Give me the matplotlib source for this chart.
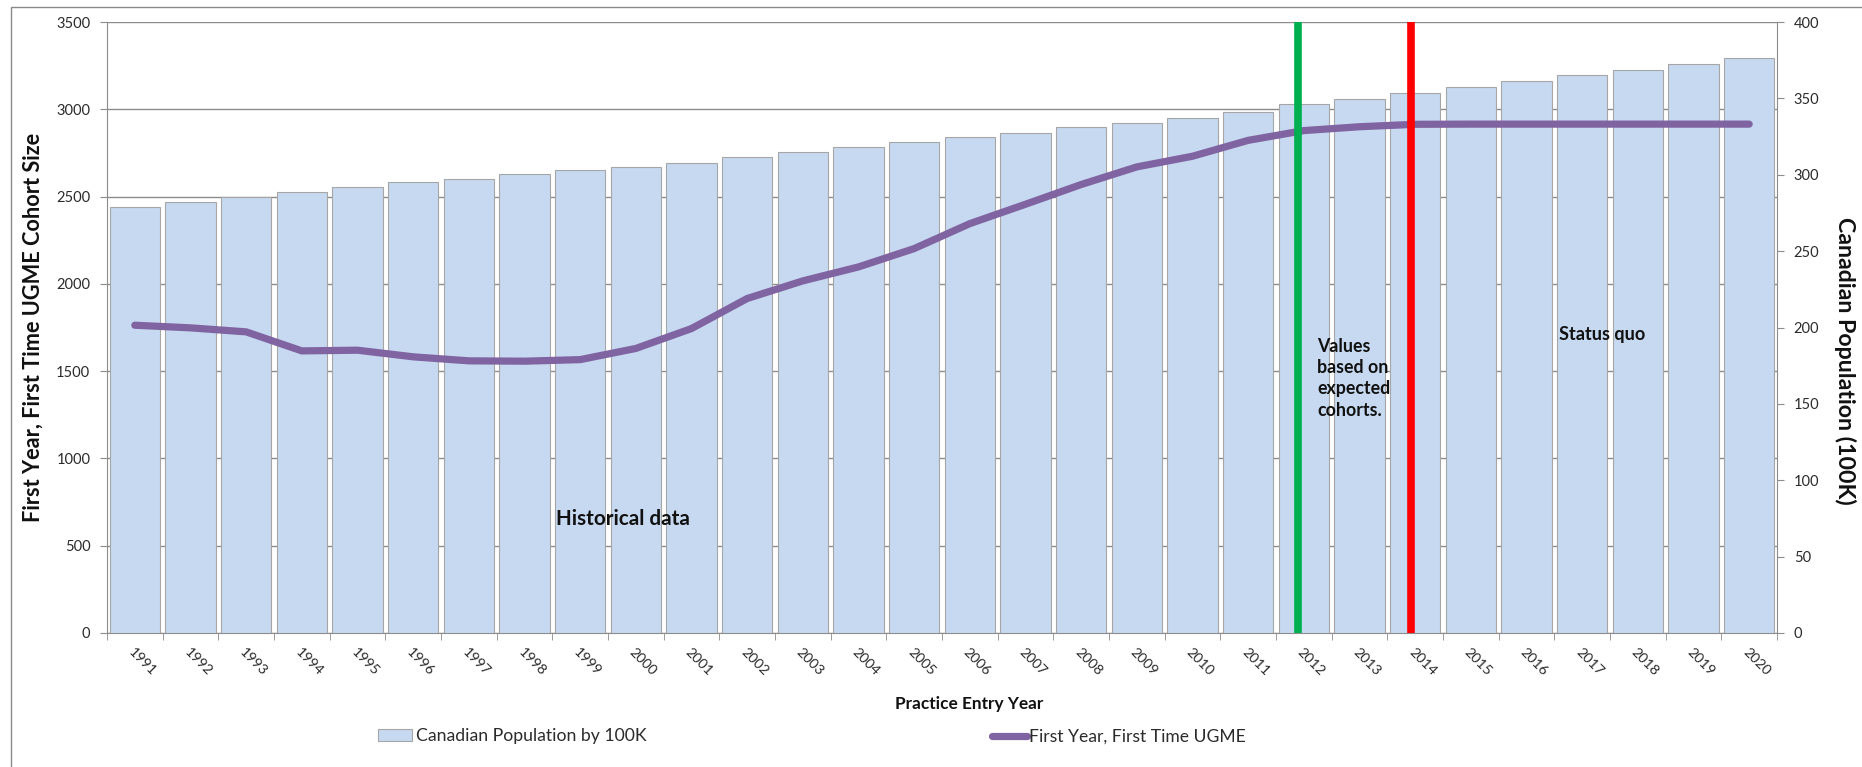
import matplotlib
matplotlib.use('Agg')
import matplotlib.pyplot as plt
from matplotlib.patches import Rectangle
import numpy as np

# ---------------- data ----------------
years = list(range(1991, 2021))
population_100k = [278.7, 282.1, 285.7, 289.0, 292.2, 295.3, 297.3, 300.6, 302.9, 305.4,
                   307.8, 311.7, 315.0, 318.2, 321.5, 324.5, 327.5, 331.2, 334.2, 337.0,
                   341.2, 346.1, 349.8, 353.5, 357.2, 361.3, 365.0, 368.7, 372.7, 376.4]
first_year_ugme = [1763, 1748, 1725, 1616, 1620, 1582, 1559, 1557, 1566, 1630,
                   1744, 1916, 2017, 2097, 2202, 2345, 2456, 2569, 2670, 2731,
                   2822, 2878, 2900, 2914, 2915, 2915, 2915, 2915, 2915, 2915]
bar_label = 'Canadian Population by 100K'
line_label = 'First Year, First Time UGME'
left_ticks = list(range(0, 3501, 500))
right_ticks = list(range(0, 401, 50))
divider_years = [2011.9, 2013.93]
divider_colors = ['#00B050', '#FF0000']

plt.rcParams['font.family'] = ['Lato', 'DejaVu Sans']

W, H = 1862, 767
fig = plt.figure(figsize=(W / 100, H / 100), dpi=100)
renderer = fig.canvas.get_renderer()


def fit(t, target, use_height=False):
    bb = t.get_window_extent(renderer)
    cur = bb.height if use_height else bb.width
    t.set_fontsize(t.get_fontsize() * target / cur)


# outer chart border
fig.patches.append(Rectangle((10.5 / W, -0.1), 1.2, 1.1 - 7 / H, transform=fig.transFigure,
                             fill=False, edgecolor='#8a8a8a', lw=1.0, clip_on=False))

pos = [107 / W, (H - 633) / H, (1777 - 107) / W, (633 - 22) / H]
x = np.arange(len(years))

grid_gray = '#8c8c8c'
text_col = '#2b2b2b'
dark = '#111111'

ax = fig.add_axes(pos)
ax.set_xlim(-0.5, len(years) - 0.5)
ax.set_ylim(0, 3500)
ax.set_yticks(left_ticks)
ax.grid(axis='y', color=grid_gray, lw=1.0)
ax.set_axisbelow(True)
for s in ['top', 'right']:
    ax.spines[s].set_visible(False)
for s in ['left', 'bottom']:
    ax.spines[s].set_color(grid_gray)
ax.tick_params(axis='y', direction='out', length=5, color=grid_gray, pad=7,
               labelsize=10.5, labelcolor=text_col)
ax.set_xticks(x)
ax.set_xticklabels([str(y) for y in years], rotation=-45, ha='left', va='top',
                   rotation_mode='anchor')
ax.tick_params(axis='x', which='major', length=0, pad=9, labelsize=10.3, labelcolor=text_col)
ax.set_xticks(np.arange(-0.5, len(years)), minor=True)
ax.tick_params(axis='x', which='minor', length=5, color=grid_gray, direction='out')

axb = ax.twinx()
bars = axb.bar(x, population_100k, width=0.9, color='#C6D9F1', edgecolor='#A6A6A6',
               lw=0.8, label=bar_label)
axb.set_ylim(0, 400)
axb.set_yticks(right_ticks)
for s in ['top', 'left', 'bottom']:
    axb.spines[s].set_visible(False)
axb.spines['right'].set_color(grid_gray)
axb.tick_params(axis='y', direction='out', length=5, color=grid_gray, pad=7,
                labelsize=10.5, labelcolor=text_col)

axl = fig.add_axes(pos, sharex=ax, sharey=ax)
axl.patch.set_visible(False)
axl.axis('off')
line, = axl.plot(x, first_year_ugme, color='#8064A2', lw=5.2, solid_capstyle='round',
                 solid_joinstyle='round', label=line_label)
for yr, c in zip(divider_years, divider_colors):
    axl.axvline(yr - years[0], color=c, lw=5.5)

# annotations
t_hist = axl.text(1998.56 - years[0], 655, 'Historical data', fontsize=15,
                  fontweight='bold', ha='left', va='center', color=dark)
fit(t_hist, 134)
t_vals = axl.text(2012.24 - years[0], 1690, 'Values\nbased on\nexpected\ncohorts.',
                  fontsize=13, fontweight='bold', ha='left', va='top', color=dark,
                  linespacing=1.3)
fit(t_vals, 73)
t_sq = axl.text(2016.58 - years[0], 1712, 'Status quo', fontsize=13,
                fontweight='bold', ha='left', va='center', color=dark)
fit(t_sq, 86)

# axis labels
t_yl = fig.text(33 / W, 1 - 327 / H, 'First Year, First Time UGME Cohort Size', rotation=90,
                ha='center', va='center', fontsize=15, fontweight='bold', color=dark)
fit(t_yl, 390, use_height=True)
t_yr = fig.text(1845 / W, 1 - 361 / H, 'Canadian Population (100K)', rotation=270,
                ha='center', va='center', fontsize=15, fontweight='bold', color=dark)
fit(t_yr, 288, use_height=True)
t_xl = fig.text(969 / W, 1 - 704 / H, 'Practice Entry Year', ha='center', va='center',
                fontsize=11, fontweight='bold', color=dark)
fit(t_xl, 148)

# legends
leg1 = fig.legend(handles=[bars], labels=[bar_label], loc='center left',
                  bbox_to_anchor=(378 / W, 1 - 736 / H), frameon=False, borderpad=0,
                  borderaxespad=0, handlelength=1.95, handleheight=0.75, handletextpad=0.25,
                  fontsize=12.5, labelcolor=text_col)
fit(leg1.get_texts()[0], 230)
leg2 = fig.legend(handles=[line], labels=[line_label], loc='center left',
                  bbox_to_anchor=(992 / W, 1 - 737 / H), frameon=False, borderpad=0,
                  borderaxespad=0, handlelength=2.0, handletextpad=0.12,
                  fontsize=12.5, labelcolor=text_col)
fit(leg2.get_texts()[0], 216)

fig.savefig('out.png', dpi=100)
